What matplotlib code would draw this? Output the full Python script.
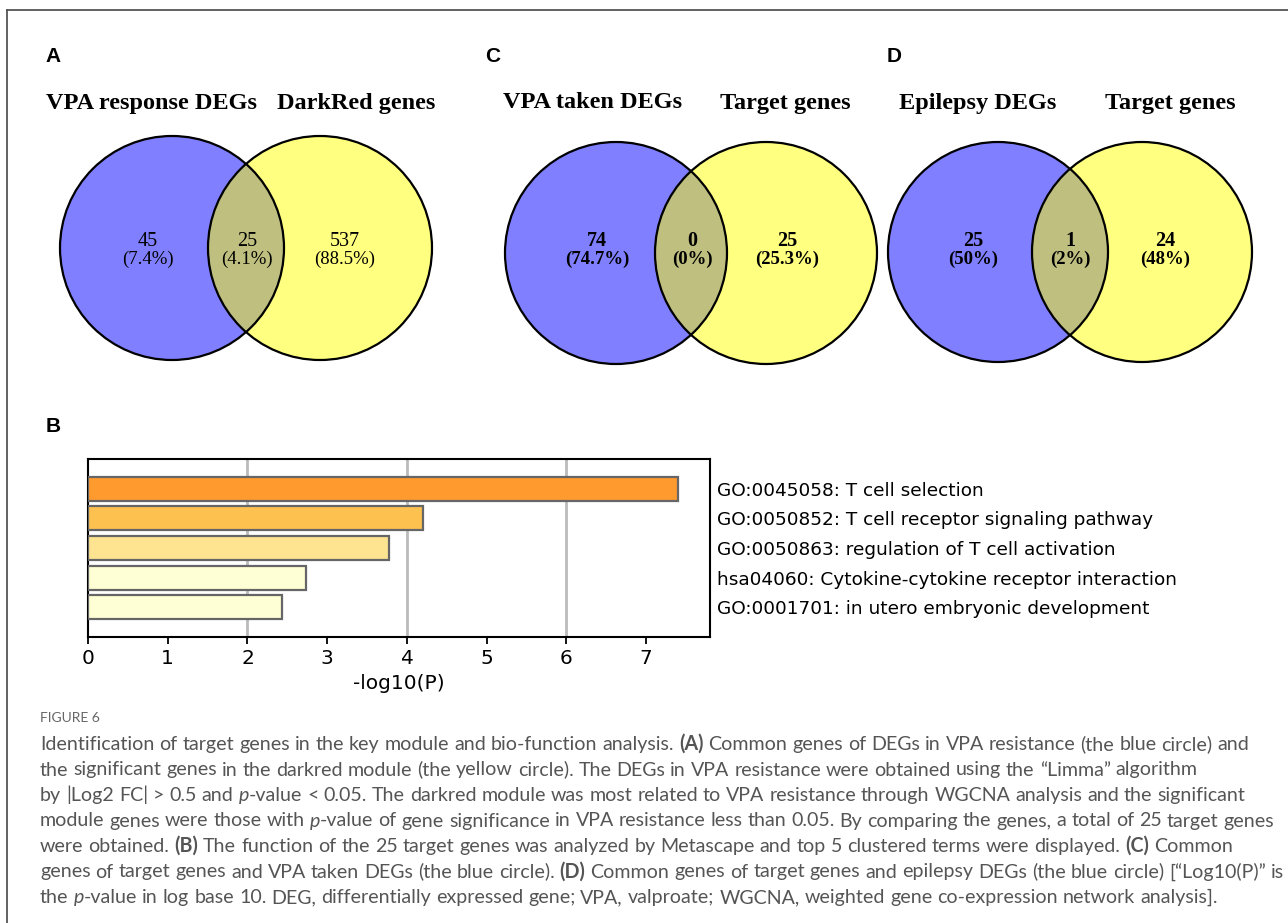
import re
import matplotlib
matplotlib.use("Agg")
import matplotlib.pyplot as plt
from matplotlib.patches import Circle

# ---- data ----
venn_titles = [("VPA response DEGs", "DarkRed genes"),
               ("VPA taken DEGs", "Target genes"),
               ("Epilepsy DEGs", "Target genes")]
venn_counts = [[45, 25, 537], [74, 0, 25], [25, 1, 24]]
venn_pcts = [["7.4%", "4.1%", "88.5%"], ["74.7%", "0%", "25.3%"], ["50%", "2%", "48%"]]
venn_letters = ["A", "C", "D"]

terms = ["GO:0045058: T cell selection",
         "GO:0050852: T cell receptor signaling pathway",
         "GO:0050863: regulation of T cell activation",
         "hsa04060: Cytokine-cytokine receptor interaction",
         "GO:0001701: in utero embryonic development"]
neg_log_p = [7.4, 4.2, 3.78, 2.74, 2.43]
bar_colors = ["#FF9A2E", "#FDC150", "#FEE391", "#FFFFD6", "#FFFFD6"]

caption_lines = [
    "Identification of target genes in the key module and bio-function analysis. **(A)** Common genes of DEGs in VPA resistance (the blue circle) and",
    "the significant genes in the darkred module (the yellow circle). The DEGs in VPA resistance were obtained using the \u201cLimma\u201d algorithm",
    "by |Log2 FC| > 0.5 and __p__-value < 0.05. The darkred module was most related to VPA resistance through WGCNA analysis and the significant",
    "module genes were those with __p__-value of gene significance in VPA resistance less than 0.05. By comparing the genes, a total of 25 target genes",
    "were obtained. **(B)** The function of the 25 target genes was analyzed by Metascape and top 5 clustered terms were displayed. **(C)** Common",
    "genes of target genes and VPA taken DEGs (the blue circle). **(D)** Common genes of target genes and epilepsy DEGs (the blue circle) [\u201cLog10(P)\u201d is",
    "the __p__-value in log base 10. DEG, differentially expressed gene; VPA, valproate; WGCNA, weighted gene co-expression network analysis].",
]

W, H = 1288, 923
fig = plt.figure(figsize=(W / 100, H / 100), dpi=100)
bg = fig.add_axes([0, 0, 1, 1])
bg.set_xlim(0, W)
bg.set_ylim(H, 0)
bg.axis("off")

# frame lines of the figure box
bg.plot([7, 7], [10, H], color="#555555", lw=1.3)
bg.plot([7, W], [10, 10], color="#555555", lw=1.3)

# ---- venn panels ----
# layout: (blue centre x, yellow centre x, centre y, radius)
geo = [(172, 320, 248, 112), (616, 766, 253, 111), (998, 1142, 252, 110)]
title_x = [(152, 356), (593, 785), (978, 1170)]
num_x = [(148, 247, 345), (597, 692, 787), (973, 1070, 1165)]
letter_x = [45, 485, 887]

for i in range(3):
    bx, yx, cy, r = geo[i]
    blue = Circle((bx, cy), r, facecolor="#7F7FFF", edgecolor="none", zorder=1)
    yel = Circle((yx, cy), r, facecolor="#FFFF80", edgecolor="none", zorder=1)
    bg.add_patch(blue)
    bg.add_patch(yel)
    lens = Circle((bx, cy), r, facecolor="#BFBF80", edgecolor="none", zorder=2)
    bg.add_patch(lens)
    lens.set_clip_path(yel)
    for c in [(bx, cy), (yx, cy)]:
        bg.add_patch(Circle(c, r, facecolor="none", edgecolor="black", lw=1.6, zorder=3))

    bg.text(letter_x[i], 57, venn_letters[i], fontsize=15, fontweight="bold",
            family="Liberation Sans", ha="left", va="center")
    for j in range(2):
        bg.text(title_x[i][j], 103, venn_titles[i][j], fontsize=17.5, fontweight="bold",
                family="Liberation Serif", ha="center", va="center")
    wt = "normal" if i == 0 else "bold"
    for j in range(3):
        bg.text(num_x[i][j], 241, str(venn_counts[i][j]), fontsize=14.5, fontweight=wt,
                family="Liberation Serif", ha="center", va="center", zorder=4)
        bg.text(num_x[i][j], 259, "(" + venn_pcts[i][j] + ")", fontsize=13.5, fontweight=wt,
                family="Liberation Serif", ha="center", va="center", zorder=4)

# ---- bar panel B ----
bg.text(46, 427, "B", fontsize=15, fontweight="bold", family="Liberation Sans",
        ha="left", va="center")

ax = fig.add_axes([88 / W, (H - 637) / H, (710 - 88) / W, (637 - 459) / H])
ypos = list(range(len(terms)))
ax.barh(ypos, neg_log_p, height=0.8, color=bar_colors, edgecolor="#666666",
        linewidth=1.6, zorder=3)
ax.set_xlim(0, 7.8)
ax.set_ylim(len(terms), -1)
ax.set_xticks(range(8))
ax.set_axisbelow(True)
for g in [2, 4, 6]:
    ax.axvline(g, color="#BBBBBB", lw=2, zorder=1)
ax.yaxis.tick_right()
ax.set_yticks(ypos)
ax.set_yticklabels(terms, fontsize=13.3, family="DejaVu Sans")
ax.tick_params(axis="y", length=0, pad=5)
ax.tick_params(axis="x", length=5, width=1.3, labelsize=14.5, pad=4)
ax.set_xlabel("-log10(P)", fontsize=14.5, labelpad=4)
for s in ax.spines.values():
    s.set_linewidth(1.5)

# ---- caption ----
cap_font = "Lato"
cap_size = 14.1
cap_color = "#555555"
bg.text(40, 718, "FIGURE 6", fontsize=10, color="#666666", family=cap_font,
        ha="left", va="center")

renderer = fig.canvas.get_renderer()


def text_width(s, **kw):
    t = bg.text(0, 0, s, **kw)
    w = t.get_window_extent(renderer=renderer).width
    t.remove()
    return w


space_w = text_width("a a", family=cap_font, fontsize=cap_size) - \
    text_width("aa", family=cap_font, fontsize=cap_size)

y0, dy = 750, 25.5
bold = False
ital = False
for k, line in enumerate(caption_lines):
    x = 40
    y = y0 + k * dy
    for word in line.split(" "):
        for part in re.split(r"(\*\*|__)", word):
            if part == "**":
                bold = not bold
                continue
            if part == "__":
                ital = not ital
                continue
            if not part:
                continue
            t = bg.text(x, y, part, fontsize=cap_size, family=cap_font, color=cap_color,
                        fontweight="bold" if bold else "normal",
                        fontstyle="italic" if ital else "normal",
                        ha="left", va="baseline")
            x += t.get_window_extent(renderer=renderer).width
        x += space_w

fig.savefig("out.png", dpi=100)
